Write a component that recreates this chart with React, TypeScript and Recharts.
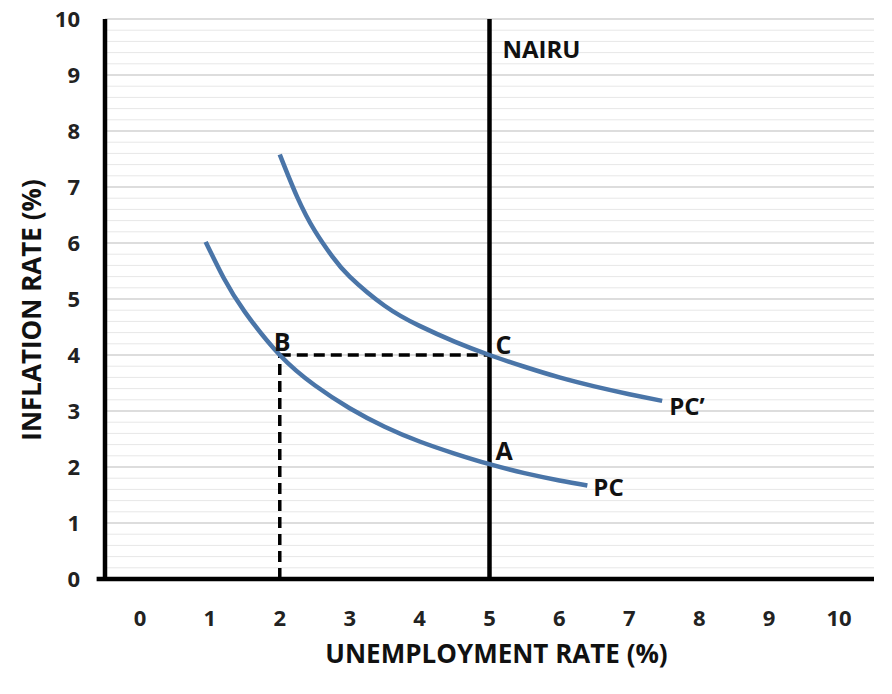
import {
  ComposedChart,
  Line,
  XAxis,
  YAxis,
  CartesianGrid,
  ReferenceLine,
  Scatter,
  Label,
} from 'recharts'

// axis ticks
const xTicks = [0, 1, 2, 3, 4, 5, 6, 7, 8, 9, 10]
const yTicks = [0, 1, 2, 3, 4, 5, 6, 7, 8, 9, 10]
// light gridlines between the integer ones
const minorSteps = [0.2, 0.4, 0.6, 0.8]

// Phillips curves
const pcCurve = [
  { x: 0.94, y: 6.02 },
  { x: 1.2, y: 5.37 },
  { x: 1.5, y: 4.77 },
  { x: 2.0, y: 4.0 },
  { x: 2.5, y: 3.46 },
  { x: 3.0, y: 3.05 },
  { x: 3.5, y: 2.72 },
  { x: 4.0, y: 2.455 },
  { x: 4.5, y: 2.24 },
  { x: 5.0, y: 2.05 },
  { x: 5.5, y: 1.89 },
  { x: 6.0, y: 1.76 },
  { x: 6.4, y: 1.67 },
]

const pcPrimeCurve = [
  { x: 2.0, y: 7.58 },
  { x: 2.25, y: 6.82 },
  { x: 2.5, y: 6.22 },
  { x: 2.75, y: 5.76 },
  { x: 3.0, y: 5.4 },
  { x: 3.5, y: 4.88 },
  { x: 4.0, y: 4.52 },
  { x: 4.5, y: 4.24 },
  { x: 5.0, y: 4.0 },
  { x: 5.5, y: 3.79 },
  { x: 6.0, y: 3.6 },
  { x: 6.5, y: 3.44 },
  { x: 7.0, y: 3.3 },
  { x: 7.47, y: 3.18 },
]

const nairu = 5
const pointB = { x: 2, y: 4 }
const pointC = { x: 5, y: 4 }

const annotations = [
  { key: 'NAIRU', x: 5, y: 10, text: 'NAIRU' },
  { key: 'B', x: 2, y: 4, text: 'B' },
  { key: 'C', x: 5, y: 4, text: 'C' },
  { key: 'A', x: 5, y: 2.05, text: 'A' },
  { key: 'PC', x: 6.4, y: 1.67, text: 'PC' },
  { key: 'PCp', x: 7.47, y: 3.18, text: 'PC’' },
]

const labelOffsets: Record<string, { dx: number; dy: number; size: number }> = {
  NAIRU: { dx: 13, dy: 39, size: 24 },
  B: { dx: -6, dy: -4, size: 25 },
  C: { dx: 6, dy: -1, size: 25 },
  A: { dx: 6, dy: -4, size: 25 },
  PC: { dx: 6, dy: 11, size: 24 },
  PCp: { dx: 7, dy: 14, size: 24 },
}

const FONT = "'Open Sans', 'DejaVu Sans', sans-serif"
const BLUE = '#4a75a8'
const TICK_SIZE = 22

const minorY = yTicks.slice(0, -1).flatMap((t) => minorSteps.map((s) => t + s))

const AnnotationShape = (props: any) => {
  const { cx, cy, payload } = props
  const off = labelOffsets[payload.key]
  return (
    <text
      x={cx + off.dx}
      y={cy + off.dy}
      fontFamily={FONT}
      fontWeight={700}
      fontSize={off.size}
      fill="#111"
    >
      {payload.text}
    </text>
  )
}

const XTick = (props: any) => (
  <text
    x={props.x}
    y={props.y + 16}
    textAnchor="middle"
    fontFamily={FONT}
    fontWeight={700}
    fontSize={TICK_SIZE}
    fill="#222"
  >
    {props.payload.value}
  </text>
)

const YTick = (props: any) => (
  <text
    x={props.x}
    y={props.y + 8}
    textAnchor="end"
    fontFamily={FONT}
    fontWeight={700}
    fontSize={TICK_SIZE}
    fill="#222"
  >
    {props.payload.value}
  </text>
)

export default function App() {
  return (
    <div style={{ width: 892, height: 694, background: '#fff' }}>
      <style>{'body{margin:0}'}</style>
      <ComposedChart
        width={892}
        height={694}
        margin={{ top: 19, right: 18, left: 0, bottom: 0 }}
      >
        <CartesianGrid vertical={false} stroke="#d2d2d2" strokeWidth={1.5} />
        {minorY.map((v) => (
          <ReferenceLine key={v} y={v} stroke="#e7e7e7" strokeWidth={1} />
        ))}
        <XAxis
          type="number"
          dataKey="x"
          domain={[-0.5, 10.5]}
          ticks={xTicks}
          allowDataOverflow
          axisLine={false}
          tickLine={false}
          tickSize={6}
          tickMargin={25}
          height={115}
          tick={<XTick />}
        >
          <Label
            content={(p: any) => (
              <text
                x={p.viewBox.x + p.viewBox.width / 2 + 7}
                y={p.viewBox.y + 84}
                textAnchor="middle"
                fontFamily={FONT}
                fontWeight={700}
                fontSize={26}
                fill="#111"
              >
                UNEMPLOYMENT RATE (%)
              </text>
            )}
          />
        </XAxis>
        <YAxis
          type="number"
          domain={[0, 10]}
          ticks={yTicks}
          width={105}
          axisLine={{ stroke: '#000', strokeWidth: 4.5 }}
          tickLine={false}
          tickSize={6}
          tickMargin={19}
          tick={<YTick />}
        >
          <Label
            content={() => (
              <text
                x={31}
                y={310}
                transform="rotate(-90 31 310)"
                textAnchor="middle"
                dominantBaseline="central"
                fontFamily={FONT}
                fontWeight={700}
                fontSize={26}
                fill="#111"
              >
                INFLATION RATE (%)
              </text>
            )}
          />
        </YAxis>
        <ReferenceLine
          segment={[{ x: pointB.x, y: 0 }, pointB]}
          stroke="#000"
          strokeWidth={3.5}
          strokeDasharray="11 6"
        />
        <ReferenceLine
          segment={[pointB, pointC]}
          stroke="#000"
          strokeWidth={3.5}
          strokeDasharray="11 6"
        />
        <ReferenceLine x={nairu} stroke="#000" strokeWidth={4.5} />
        <ReferenceLine
          segment={[{ x: -0.62, y: 0 }, { x: 10.5, y: 0 }]}
          ifOverflow="visible"
          stroke="#000"
          strokeWidth={4.5}
        />
        <Line
          data={pcCurve}
          dataKey="y"
          type="natural"
          stroke={BLUE}
          strokeWidth={4.5}
          dot={false}
          isAnimationActive={false}
        />
        <Line
          data={pcPrimeCurve}
          dataKey="y"
          type="natural"
          stroke={BLUE}
          strokeWidth={4.5}
          dot={false}
          isAnimationActive={false}
        />
        <Scatter
          data={annotations}
          dataKey="y"
          shape={AnnotationShape}
          isAnimationActive={false}
        />
      </ComposedChart>
    </div>
  )
}
